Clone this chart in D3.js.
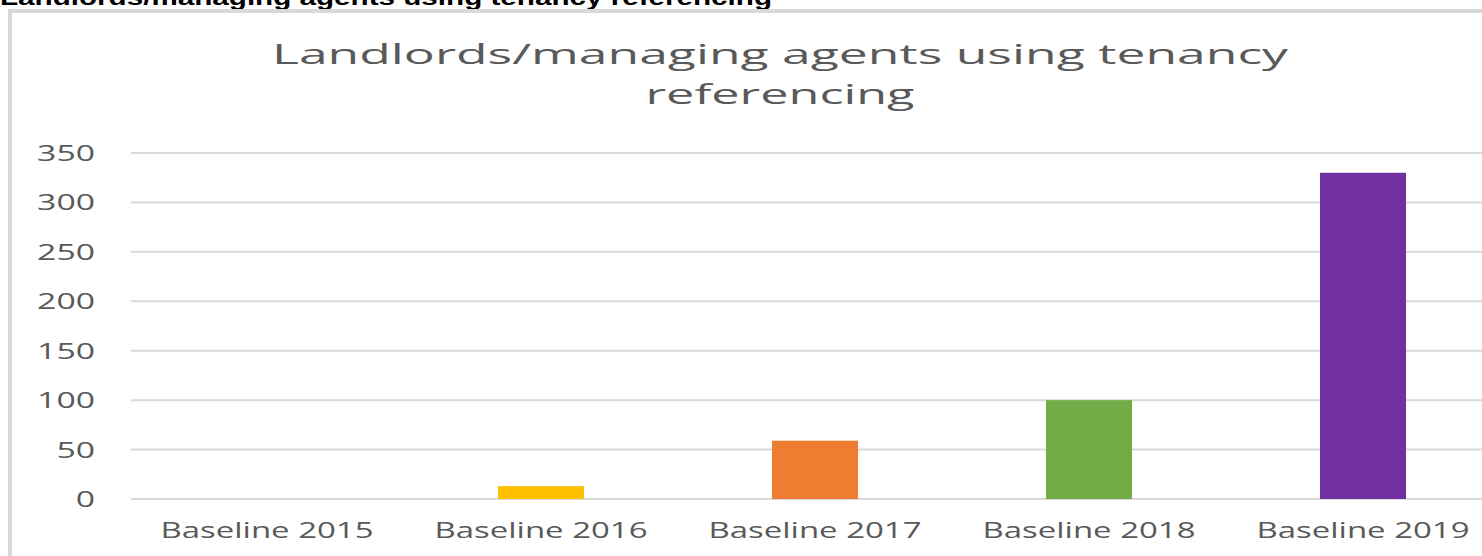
<!DOCTYPE html>
<html>
<head>
<meta charset="utf-8">
<script src="https://cdn.jsdelivr.net/npm/d3@7"></script>
<style>
    body { margin: 0; background: #fff; overflow: hidden; }
    svg { display: block; }
</style>
</head>
<body>
<svg id="chart"></svg>
<script>
// data
const categories = ['Baseline 2015', 'Baseline 2016', 'Baseline 2017', 'Baseline 2018', 'Baseline 2019'];
const values = [0, 13, 59, 100, 330];
const barColors = ['#4472c4', '#ffc000', '#ed7d31', '#70ad47', '#7030a0'];
const yTicks = [0, 50, 100, 150, 200, 250, 300, 350];
const pageHeading = 'Landlords/managing agents using tenancy referencing';
const titleLines = ['Landlords/managing agents using tenancy', 'referencing'];

const width = 1482, height = 556;
const textGrey = '#595959', gridGrey = '#d9d9d9';

const svg = d3.select('#chart')
    .attr('width', width)
    .attr('height', height);

// page heading, mostly cut off at the top
svg.append('text')
    .attr('x', 0)
    .attr('y', 5)
    .attr('font-family', 'Liberation Sans, Arial, sans-serif')
    .attr('font-weight', 'bold')
    .attr('font-size', 22)
    .attr('textLength', 772)
    .attr('lengthAdjust', 'spacingAndGlyphs')
    .attr('fill', '#000')
    .text(pageHeading);

// chart frame
svg.append('rect')
    .attr('x', 10)
    .attr('y', 11)
    .attr('width', width + 20)
    .attr('height', height + 20)
    .attr('fill', '#fff')
    .attr('stroke', gridGrey)
    .attr('stroke-width', 4);

// chart title
const titleWidths = [1016, 269];
svg.append('g').selectAll('text')
    .data(titleLines)
    .enter().append('text')
    .attr('x', 780)
    .attr('y', function(d, i) { return 64 + i * 40; })
    .attr('text-anchor', 'middle')
    .attr('font-family', 'Open Sans, sans-serif')
    .attr('font-size', 28)
    .attr('textLength', function(d, i) { return titleWidths[i]; })
    .attr('lengthAdjust', 'spacingAndGlyphs')
    .attr('fill', textGrey)
    .text(function(d) { return d; });

const x = d3.scaleBand()
    .domain(categories)
    .range([130, 1500])
    .paddingInner(0.686)
    .paddingOuter(0.343);

const y = d3.scaleLinear()
    .domain([0, 350])
    .range([499, 153]);

// gridlines
svg.append('g').selectAll('line')
    .data(yTicks)
    .enter().append('line')
    .attr('x1', 131)
    .attr('x2', width)
    .attr('y1', function(d) { return y(d); })
    .attr('y2', function(d) { return y(d); })
    .attr('stroke', gridGrey)
    .attr('stroke-width', 2);

// y tick labels
svg.append('g').selectAll('text')
    .data(yTicks)
    .enter().append('text')
    .attr('x', 95)
    .attr('y', function(d) { return y(d) + 8; })
    .attr('text-anchor', 'end')
    .attr('font-family', 'Open Sans, sans-serif')
    .attr('font-size', 21)
    .attr('textLength', function(d) { return String(d).length * 19.3; })
    .attr('lengthAdjust', 'spacingAndGlyphs')
    .attr('fill', textGrey)
    .text(function(d) { return d; });

// bars
svg.append('g').selectAll('rect')
    .data(values)
    .enter().append('rect')
    .attr('x', function(d, i) { return x(categories[i]); })
    .attr('y', function(d) { return y(d); })
    .attr('width', x.bandwidth())
    .attr('height', function(d) { return y(0) - y(d); })
    .attr('fill', function(d, i) { return barColors[i]; });

// category labels
svg.append('g').selectAll('text')
    .data(categories)
    .enter().append('text')
    .attr('x', function(d) { return x(d) + x.bandwidth() / 2; })
    .attr('y', 538)
    .attr('text-anchor', 'middle')
    .attr('font-family', 'Open Sans, sans-serif')
    .attr('font-size', 21)
    .attr('textLength', 213)
    .attr('lengthAdjust', 'spacingAndGlyphs')
    .attr('fill', textGrey)
    .text(function(d) { return d; });
</script>
</body>
</html>
